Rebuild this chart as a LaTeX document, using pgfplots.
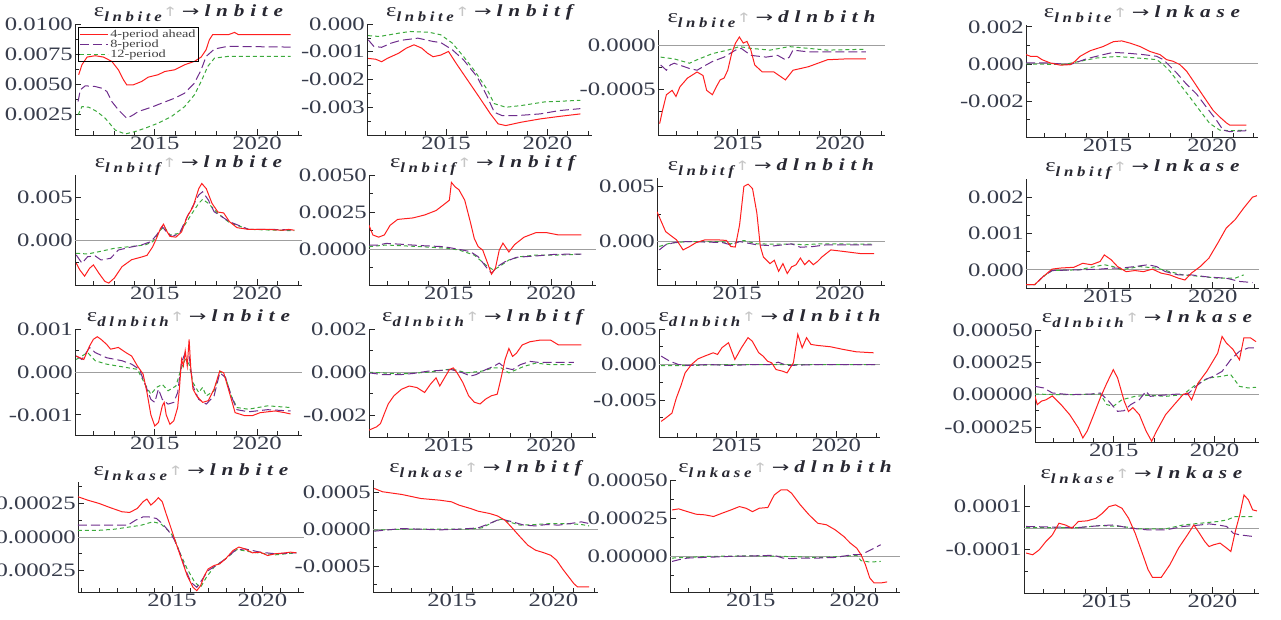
\documentclass[border=0pt]{standalone}
\usepackage{fontspec}
\setmainfont{Liberation Serif}[FakeStretch=1.3]
\newfontfamily\trackit{Liberation Serif}[FakeStretch=1.25, LetterSpace=34]
\newfontfamily\subtrack{Liberation Serif}[FakeStretch=1.2, LetterSpace=26]
\newfontfamily\arrowfont{DejaVu Sans}[FakeStretch=1.4]
\usepackage{pgfplots}
\pgfplotsset{compat=1.18}

\definecolor{cred}{RGB}{255,30,30}
\definecolor{cpur}{RGB}{110,45,140}
\definecolor{cgrn}{RGB}{60,170,60}
\definecolor{tickc}{RGB}{55,60,75}
\definecolor{titlec}{RGB}{40,40,50}

% title: shock -> response
\newcommand{\irf}[2]{{\color{titlec}\fontsize{19}{19}\selectfont ε}\raisebox{-5pt}{\color{titlec}\subtrack\bfseries\itshape\fontsize{14}{14}\selectfont #1}\hspace{1pt}{\color{gray!45}\arrowfont\fontsize{13}{13}\selectfont ↑}\hspace{4pt}{\color{titlec}\arrowfont\fontsize{15}{15}\selectfont →}\hspace{5pt}{\color{titlec}\trackit\bfseries\itshape\fontsize{17}{17}\selectfont #2}}
\newcommand{\ticklab}{\fontsize{19}{19}\selectfont}

\tikzset{
  redl/.style={color=cred, line width=1pt, solid},
  purl/.style={color=cpur, line width=1pt, dash pattern=on 9pt off 4pt},
  grnl/.style={color=cgrn, line width=1pt, dash pattern=on 4pt off 3pt},
  zl/.style={color=gray!75, line width=0.8pt},
}

\pgfplotsset{
  every axis title shift=0pt,
  irf/.style={
    scale only axis, anchor=south west,
    axis x line*=bottom, axis y line*=left,
    axis line style={-, black!85, line width=0.8pt},
    xmin=2011.1, xmax=2022.2,
    xtick={2015,2020}, xticklabels={2015,2020},
    minor xtick={2012,2013,2014,2016,2017,2018,2019,2021,2022},
    tick align=inside,
    major tick length=6pt, minor tick length=4pt,
    every tick/.style={black!85, line width=0.7pt},
    tick label style={font=\ticklab, color=tickc},
    yticklabel style={inner xsep=2pt},
    xticklabel style={inner ysep=2pt},
    scaled y ticks=false, scaled x ticks=false,
    title style={at={(0.5,1)}, anchor=base, yshift=7pt, inner sep=0pt},
  },
}

\begin{document}
\begin{tikzpicture}
\useasboundingbox (0pt,0pt) rectangle (1281pt,620pt);

% ---------------- row 1: shock lnbite ----------------
\begin{axis}[irf, at={(75pt,485pt)}, width=227pt, height=111pt,
  ymin=0.00077, ymax=0.0100,
  ytick={0.0025,0.005,0.0075,0.01}, yticklabels={0.0025,0.0050,0.0075,0.0100},
  minor ytick={0.00125,0.00375,0.00625,0.00875},
  title={\irf{lnbite}{lnbite}},
  legend style={at={(0.013,0.973)}, anchor=north west, draw=black, line width=0.6pt, fill=none,
    font=\fontsize{11}{9}\selectfont, inner sep=1pt, row sep=-3.5pt, text=black!75},
  legend cell align=left,
  legend image code/.code={\draw[#1] (0pt,0pt) -- (28pt,0pt);}]
\addlegendimage{redl}\addlegendentry{4-period ahead}
\addlegendimage{purl}\addlegendentry{8-period}
\addlegendimage{grnl}\addlegendentry{12-period}
\addplot[grnl, forget plot] coordinates {(2011.25,0.00244) (2011.44,0.00313) (2011.77,0.00308) (2012.17,0.00272) (2012.58,0.00216) (2013.06,0.00119) (2013.55,0.00085) (2014.03,0.00105) (2014.52,0.00133) (2015.16,0.00175) (2015.81,0.0023) (2016.46,0.00313) (2016.94,0.00411) (2017.27,0.00522) (2017.59,0.00647) (2017.92,0.00716) (2018.56,0.0073) (2021.64,0.0073)};
\addplot[purl, forget plot] coordinates {(2011.25,0.00355) (2011.36,0.00452) (2011.6,0.00486) (2012.09,0.0048) (2012.41,0.00466) (2012.66,0.00439) (2012.9,0.00355) (2013.22,0.00286) (2013.63,0.00216) (2013.95,0.00244) (2014.19,0.00272) (2014.84,0.00308) (2015.33,0.00341) (2015.97,0.00383) (2016.46,0.00425) (2016.94,0.00508) (2017.27,0.00619) (2017.51,0.0073) (2017.92,0.00792) (2018.56,0.00814) (2021.64,0.00808)};
\addplot[redl, forget plot] coordinates {(2011.28,0.00578) (2011.44,0.00661) (2011.69,0.00725) (2012.09,0.00736) (2012.49,0.00725) (2012.9,0.00689) (2013.22,0.00619) (2013.47,0.00536) (2013.63,0.00494) (2013.95,0.00494) (2014.36,0.00522) (2014.68,0.00558) (2015.16,0.00578) (2015.49,0.00605) (2015.97,0.00619) (2016.46,0.00661) (2016.94,0.00689) (2017.27,0.00725) (2017.51,0.00786) (2017.67,0.00869) (2017.83,0.00911) (2018.6,0.00911) (2018.9,0.0093) (2019.1,0.00911) (2021.64,0.00911)};
\end{axis}

\begin{axis}[irf, at={(367pt,485pt)}, width=225pt, height=111pt,
  ymin=-0.0040, ymax=0,
  ytick={-0.003,-0.002,-0.001,0}, yticklabels={-0.003,-0.002,-0.001,0.000},
  minor ytick={-0.0035,-0.0025,-0.0015,-0.0005},
  title={\irf{lnbite}{lnbitf}}]
\addplot[grnl] coordinates {(2011.16,-0.00042) (2011.72,-0.00045) (2012.67,-0.00033) (2013.23,-0.00027) (2014.18,-0.0003) (2014.74,-0.00039) (2015.31,-0.00069) (2015.87,-0.00118) (2016.44,-0.00172) (2017.0,-0.00233) (2017.38,-0.00287) (2017.95,-0.003) (2018.7,-0.00294) (2019.84,-0.00281) (2021.63,-0.00275)};
\addplot[purl] coordinates {(2011.16,-0.00057) (2011.44,-0.00081) (2011.82,-0.00084) (2012.29,-0.00069) (2012.76,-0.00059) (2013.61,-0.00051) (2014.36,-0.00063) (2014.74,-0.00067) (2015.31,-0.00093) (2015.87,-0.0013) (2016.53,-0.0019) (2017.0,-0.00257) (2017.38,-0.00318) (2017.76,-0.0033) (2018.52,-0.0033) (2019.65,-0.00324) (2020.59,-0.00312) (2021.63,-0.00305)};
\addplot[redl] coordinates {(2011.16,-0.00124) (2011.53,-0.00127) (2011.82,-0.00136) (2012.1,-0.00124) (2012.67,-0.00105) (2013.04,-0.00087) (2013.42,-0.00075) (2013.8,-0.00087) (2014.08,-0.00105) (2014.36,-0.00118) (2014.74,-0.00112) (2015.12,-0.00099) (2015.5,-0.00142) (2016.06,-0.00202) (2016.63,-0.00263) (2017.19,-0.00324) (2017.57,-0.0036) (2017.95,-0.00366) (2018.7,-0.00354) (2019.65,-0.00342) (2020.59,-0.00333) (2021.63,-0.00324)};
\end{axis}

\begin{axis}[irf, at={(658pt,485pt)}, width=227pt, height=105pt,
  ymin=-0.00102, ymax=0.00018,
  ytick={-0.0005,0}, yticklabels={-0.0005,0.0000},
  minor ytick={-0.00075,-0.00025},
  title={\irf{lnbite}{dlnbith}}]
\addplot[zl] coordinates {(2011.1,0) (2022.2,0)};
\addplot[grnl] coordinates {(2011.23,-0.00013) (2011.89,-0.00015) (2012.64,-0.0002) (2013.01,-0.00016) (2013.76,-0.00009) (2014.51,-0.00005) (2015.08,-0.00001) (2015.64,-0.00003) (2016.58,-0.00005) (2017.52,-0.00001) (2018.45,-0.00003) (2019.39,-0.00005) (2021.27,-0.00004)};
\addplot[purl] coordinates {(2011.23,-0.00022) (2011.51,-0.00028) (2011.7,-0.00022) (2011.89,-0.0002) (2012.64,-0.00026) (2013.01,-0.00028) (2013.3,-0.00024) (2013.76,-0.00018) (2014.33,-0.00013) (2014.89,-0.00005) (2015.17,-0.00003) (2015.64,-0.00011) (2016.39,-0.00013) (2016.95,-0.00011) (2017.33,-0.00016) (2017.52,-0.00013) (2017.7,-0.00005) (2018.45,-0.00007) (2019.39,-0.00007) (2021.27,-0.00007)};
\addplot[redl] coordinates {(2011.18,-0.00089) (2011.32,-0.00074) (2011.51,-0.00056) (2011.79,-0.00051) (2011.98,-0.00058) (2012.17,-0.00047) (2012.54,-0.00037) (2013.01,-0.0003) (2013.3,-0.00034) (2013.48,-0.00051) (2013.76,-0.00056) (2013.95,-0.00047) (2014.14,-0.00039) (2014.33,-0.00037) (2014.51,-0.00028) (2014.7,-0.00009) (2014.89,0.00003) (2015.08,0.0001) (2015.27,0.00003) (2015.45,0.00005) (2015.64,-0.00005) (2015.83,-0.00022) (2016.2,-0.0003) (2016.77,-0.0003) (2017.33,-0.00039) (2017.7,-0.00028) (2018.45,-0.00024) (2019.39,-0.00016) (2020.33,-0.00015) (2021.27,-0.00015)};
\end{axis}

% ---------------- column 4 ----------------
\begin{axis}[irf, at={(1026pt,483pt)}, width=232pt, height=112pt,
  ymin=-0.00395, ymax=0.0021,
  ytick={-0.002,0,0.002}, yticklabels={-0.002,0.000,0.002},
  minor ytick={-0.003,-0.001,0.001},
  title={\irf{lnbite}{lnkase}}]
\addplot[zl] coordinates {(2011.1,0) (2022.2,0)};
\addplot[grnl] coordinates {(2011.1,0) (2012.9,-0.00004) (2013.69,0.00014) (2014.49,0.00032) (2015.44,0.0004) (2016.39,0.00032) (2017.35,0.00023) (2017.67,-0.00004) (2017.98,-0.00039) (2018.46,-0.0011) (2018.94,-0.0018) (2019.41,-0.00251) (2019.89,-0.00322) (2020.37,-0.00358) (2020.85,-0.00361) (2021.64,-0.00358)};
\addplot[purl] coordinates {(2011.1,0.00005) (2012.1,0.00005) (2013.21,-0.00004) (2014.01,0.00028) (2014.8,0.0005) (2015.28,0.00062) (2015.92,0.00058) (2016.71,0.0005) (2017.35,0.00041) (2017.67,0.00023) (2017.98,-0.00012) (2018.3,-0.00048) (2018.78,-0.0011) (2019.26,-0.00163) (2019.73,-0.00234) (2020.21,-0.00304) (2020.53,-0.00358) (2020.85,-0.00366) (2021.64,-0.00361)};
\addplot[redl] coordinates {(2011.1,0.0005) (2011.31,0.00041) (2011.62,0.00041) (2011.86,0.00023) (2012.26,0.00005) (2012.74,-0.00007) (2013.21,-0.00004) (2013.45,0.00014) (2013.69,0.00041) (2014.17,0.00071) (2014.8,0.00094) (2015.28,0.0012) (2015.68,0.00124) (2016.08,0.00112) (2016.55,0.00094) (2017.03,0.00067) (2017.51,0.0005) (2017.82,0.00023) (2018.14,0.00014) (2018.46,-0.00004) (2018.78,-0.00039) (2019.1,-0.00092) (2019.41,-0.00145) (2019.73,-0.00198) (2020.05,-0.00251) (2020.37,-0.00287) (2020.69,-0.00319) (2020.85,-0.00331) (2021.64,-0.00331)};
\end{axis}

\begin{axis}[irf, at={(1026pt,332pt)}, width=233pt, height=109pt,
  ymin=-0.0005, ymax=0.0025,
  ytick={0,0.001,0.002}, yticklabels={0.000,0.001,0.002},
  minor ytick={0.0005,0.0015},
  title={\irf{lnbitf}{lnkase}}]
\addplot[zl] coordinates {(2011.1,0) (2022.2,0)};
\addplot[grnl] coordinates {(2011.1,-0.00041) (2011.51,-0.00041) (2011.93,-0.00018) (2012.34,-0.00002) (2013.59,0) (2014.83,0.00014) (2015.25,0.00009) (2015.66,0) (2016.49,0.00009) (2017.32,0.00005) (2017.95,-0.00005) (2018.57,-0.00014) (2019.4,-0.00018) (2020.23,-0.00023) (2021.06,-0.00023) (2021.47,-0.00014)};
\addplot[purl] coordinates {(2011.1,-0.00041) (2011.51,-0.00041) (2011.93,-0.00018) (2012.34,-0.00002) (2013.59,0) (2014.63,0.00002) (2015.25,0.00005) (2015.66,0.00005) (2016.29,0.00009) (2016.91,0.00014) (2017.32,0.00009) (2017.74,-0.00005) (2018.36,-0.00014) (2018.98,-0.00014) (2019.81,-0.0002) (2020.64,-0.00023) (2021.27,-0.00032) (2021.89,-0.00035)};
\addplot[redl] coordinates {(2011.1,-0.00041) (2011.51,-0.00041) (2011.93,-0.00018) (2012.34,0.00002) (2012.76,0.00005) (2013.38,0.00007) (2013.8,0.00018) (2014.21,0.00014) (2014.63,0.00023) (2014.83,0.00041) (2015.15,0.00028) (2015.46,0.00009) (2015.87,-0.00005) (2016.29,-0.00002) (2016.7,-0.00005) (2017.12,0.00002) (2017.53,-0.00009) (2017.95,-0.00014) (2018.36,-0.00023) (2018.67,-0.00028) (2018.98,-0.00009) (2019.4,0.00009) (2019.81,0.00032) (2020.23,0.00073) (2020.64,0.00115) (2021.06,0.00138) (2021.47,0.0017) (2021.89,0.002) (2022.1,0.00204)};
\end{axis}

\begin{axis}[irf, at={(1035pt,178pt)}, width=224pt, height=112pt,
  ymin=-0.000366, ymax=0.0005,
  ytick={-0.00025,0,0.00025,0.0005}, yticklabels={-0.00025,0.00000,0.00025,0.00050},
  minor ytick={-0.000125,0.000125,0.000375},
  title={\irf{dlnbith}{lnkase}}]
\addplot[zl] coordinates {(2011.1,0) (2022.2,0)};
\addplot[grnl] coordinates {(2011.1,0.000005) (2012.18,0) (2013.26,0) (2014.33,0.000005) (2014.66,-0.000077) (2014.98,-0.00009) (2015.41,-0.000039) (2016.06,-0.000013) (2016.7,-0.000005) (2017.57,-0.000013) (2018.43,0) (2019.07,0.000077) (2019.72,0.000129) (2020.37,0.000142) (2020.8,0.000155) (2021.23,0.000064) (2021.66,0.000052) (2022.05,0.000057)};
\addplot[purl] coordinates {(2011.1,0.000064) (2011.53,0.000052) (2011.96,0.000013) (2012.82,0) (2013.9,0.000005) (2014.33,0.000013) (2014.76,-0.000052) (2015.19,-0.000129) (2015.52,-0.000124) (2015.84,-0.000077) (2016.27,-0.000039) (2016.6,0.000026) (2016.81,-0.000013) (2017.35,-0.000005) (2018.21,0.000005) (2018.64,0) (2019.07,0.000064) (2019.51,0.000116) (2019.94,0.000142) (2020.37,0.00018) (2020.8,0.000271) (2021.23,0.000335) (2021.66,0.000361) (2022.05,0.000361)};
\addplot[redl] coordinates {(2011.1,-0.000013) (2011.21,-0.000077) (2011.42,-0.00005) (2011.64,-0.00004) (2011.96,-0.00001) (2012.39,-0.000077) (2012.82,-0.000155) (2013.26,-0.00026) (2013.47,-0.000335) (2013.69,-0.00028) (2014.01,-0.000155) (2014.33,-0.000026) (2014.66,0.00009) (2014.98,0.000193) (2015.19,0.00013) (2015.52,-0.00005) (2015.73,-0.00013) (2015.95,-0.0001) (2016.27,-0.000155) (2016.6,-0.00028) (2016.88,-0.00036) (2017.13,-0.00028) (2017.57,-0.000155) (2018.0,-0.000077) (2018.43,0) (2018.64,0.000013) (2018.86,-0.00004) (2019.18,0.00009) (2019.61,0.00018) (2020.15,0.00032) (2020.37,0.00045) (2020.58,0.0004) (2020.91,0.00035) (2021.23,0.00027) (2021.45,0.00044) (2021.77,0.00044) (2022.05,0.00041)};
\end{axis}

\begin{axis}[irf, at={(1024pt,27pt)}, width=235pt, height=108pt,
  ymin=-0.0003, ymax=0.0002,
  ytick={-0.0001,0.0001}, yticklabels={-0.0001,0.0001},
  minor ytick={-0.0002,0},
  title={\irf{lnkase}{lnkase}}]
\addplot[zl] coordinates {(2011.1,0) (2022.2,0)};
\addplot[grnl] coordinates {(2011.2,0.000003) (2013.67,0.000003) (2014.7,0.000012) (2015.73,0.000008) (2016.55,-0.000003) (2017.79,-0.000003) (2018.61,0.000015) (2019.43,0.000023) (2020.26,0.000031) (2020.67,0.000038) (2021.08,0.000054) (2021.49,0.000054) (2021.9,0.000054)};
\addplot[purl] coordinates {(2011.2,0.000008) (2013.67,0.000003) (2014.7,0.000012) (2015.32,0.000015) (2016.14,0) (2016.96,-0.000008) (2017.79,-0.000008) (2018.61,0.000008) (2019.43,0.000015) (2019.84,0.00002) (2020.26,0.000015) (2020.67,0.000008) (2020.98,-0.000023) (2021.29,-0.000031) (2021.9,-0.000038)};
\addplot[redl] coordinates {(2011.2,-0.000115) (2011.51,-0.000123) (2011.82,-0.0001) (2012.13,-0.000062) (2012.44,-0.000031) (2012.75,0.000023) (2013.05,0.000015) (2013.36,0) (2013.67,0.000031) (2014.08,0.000034) (2014.5,0.000046) (2014.8,0.000069) (2015.11,0.0001) (2015.42,0.000108) (2015.73,0.000092) (2016.04,0.000046) (2016.35,-0.000023) (2016.66,-0.000108) (2016.96,-0.000192) (2017.17,-0.000228) (2017.58,-0.000228) (2017.99,-0.000169) (2018.4,-0.000092) (2018.82,-0.000031) (2019.12,0.000015) (2019.33,-0.000015) (2019.64,-0.000062) (2019.84,-0.000085) (2020.05,-0.000077) (2020.36,-0.000069) (2020.67,-0.000092) (2020.87,-0.000108) (2021.08,-0.000015) (2021.29,0.000062) (2021.49,0.000154) (2021.7,0.000131) (2021.9,0.000085) (2022.1,0.00008)};
\end{axis}

% ---------------- row 2: shock lnbitf ----------------
\begin{axis}[irf, at={(75pt,335pt)}, width=227pt, height=110pt,
  ymin=-0.00512, ymax=0.00758,
  ytick={0,0.005}, yticklabels={0.000,0.005},
  minor ytick={-0.0025,0.0025},
  title={\irf{lnbitf}{lnbite}}]
\addplot[zl] coordinates {(2011.1,0) (2022.2,0)};
\addplot[grnl] coordinates {(2011.16,-0.00146) (2011.72,-0.00154) (2012.28,-0.00127) (2013.03,-0.00088) (2013.78,-0.00069) (2014.53,-0.0005) (2014.9,-0.00012) (2015.28,0.00123) (2015.46,0.00162) (2015.74,0.00065) (2016.21,0.00085) (2016.77,0.00296) (2017.15,0.00431) (2017.34,0.00477) (2017.62,0.00431) (2018.09,0.00315) (2018.65,0.00208) (2019.58,0.00131) (2020.52,0.00123) (2021.83,0.00115)};
\addplot[purl] coordinates {(2011.16,-0.00165) (2011.44,-0.0026) (2011.72,-0.00185) (2012.09,-0.00177) (2012.37,-0.00223) (2012.84,-0.00204) (2013.22,-0.00108) (2013.78,-0.00077) (2014.34,-0.0005) (2014.81,-0.00012) (2015.09,0.00065) (2015.37,0.00162) (2015.56,0.00104) (2015.84,0.00046) (2016.21,0.00085) (2016.59,0.00277) (2017.15,0.00527) (2017.34,0.00565) (2017.62,0.00469) (2017.9,0.00335) (2018.65,0.00219) (2019.58,0.00131) (2020.52,0.00131) (2021.83,0.00123)};
\addplot[redl] coordinates {(2011.16,-0.0026) (2011.34,-0.0034) (2011.57,-0.0041) (2011.81,-0.0032) (2012.0,-0.0028) (2012.28,-0.0038) (2012.56,-0.0047) (2012.75,-0.0049) (2013.03,-0.0043) (2013.4,-0.003) (2013.87,-0.0022) (2014.34,-0.0019) (2014.62,-0.0017) (2014.9,-0.0007) (2015.09,0.0003) (2015.28,0.0014) (2015.43,0.0019) (2015.56,0.0012) (2015.74,0.0005) (2016.03,0.0004) (2016.31,0.001) (2016.59,0.0028) (2016.87,0.0039) (2017.15,0.006) (2017.3,0.0066) (2017.52,0.006) (2017.8,0.0043) (2018.09,0.0033) (2018.37,0.0032) (2018.65,0.0022) (2019.02,0.0015) (2019.58,0.0013) (2020.52,0.0013) (2021.27,0.0012) (2021.55,0.0013) (2021.83,0.0012)};
\end{axis}

\begin{axis}[irf, at={(369pt,335pt)}, width=227pt, height=110pt,
  ymin=-0.00243, ymax=0.0050,
  ytick={0,0.0025,0.005}, yticklabels={0.0000,0.0025,0.0050},
  minor ytick={-0.00125,0.00125,0.00375},
  title={\irf{lnbitf}{lnbitf}}]
\addplot[zl] coordinates {(2011.1,0) (2022.2,0)};
\addplot[grnl] coordinates {(2011.1,0.00016) (2011.94,0.00027) (2013.63,0.00016) (2014.94,0.00005) (2015.5,-0.00007) (2016.25,-0.00041) (2016.81,-0.00108) (2017.18,-0.00142) (2017.47,-0.00119) (2017.94,-0.00074) (2018.5,-0.00052) (2019.25,-0.00041) (2020.18,-0.00041) (2021.49,-0.00036)};
\addplot[purl] coordinates {(2011.1,0.00027) (2011.57,0.00027) (2011.94,0.00038) (2012.69,0.00032) (2013.63,0.00023) (2014.75,0.00016) (2015.5,-0.00002) (2016.06,-0.00018) (2016.44,-0.00052) (2016.81,-0.00119) (2017.09,-0.00164) (2017.37,-0.00119) (2017.75,-0.00086) (2018.31,-0.00056) (2019.25,-0.00047) (2020.18,-0.00036) (2021.49,-0.00034)};
\addplot[redl] coordinates {(2011.1,0.0016) (2011.29,0.00095) (2011.57,0.0008) (2011.85,0.00095) (2012.13,0.0016) (2012.5,0.002) (2013.25,0.0021) (2013.82,0.0023) (2014.38,0.0026) (2014.85,0.0031) (2015.03,0.0033) (2015.13,0.0045) (2015.31,0.0042) (2015.5,0.004) (2015.78,0.0033) (2016.06,0.0018) (2016.25,0.0007) (2016.44,0.00016) (2016.66,-0.00007) (2016.91,-0.001) (2017.09,-0.0017) (2017.28,-0.0013) (2017.47,-0.00007) (2017.65,0.0004) (2017.94,-0.0002) (2018.22,0.0003) (2018.68,0.0008) (2019.25,0.0011) (2019.81,0.0011) (2020.37,0.00095) (2021.12,0.00095) (2021.49,0.00095)};
\end{axis}

\begin{axis}[irf, at={(657pt,335pt)}, width=228pt, height=107pt,
  ymin=-0.00394, ymax=0.00576,
  ytick={0,0.005}, yticklabels={0.000,0.005},
  minor ytick={-0.0025,0.0025},
  title={\irf{lnbitf}{dlnbith}}]
\addplot[zl] coordinates {(2011.1,0) (2022.2,0)};
\addplot[grnl] coordinates {(2011.21,-0.00045) (2011.73,-0.00015) (2012.58,0) (2014.27,0) (2014.69,-0.00021) (2015.33,0.00009) (2015.96,-0.00021) (2016.81,-0.00024) (2017.87,-0.00024) (2018.29,-0.0003) (2018.92,-0.00021) (2021.67,-0.00024)};
\addplot[purl] coordinates {(2011.21,-0.00076) (2011.52,-0.0003) (2011.95,-0.00009) (2012.58,0) (2014.27,-0.00009) (2014.69,-0.0003) (2015.12,0) (2015.96,-0.0003) (2016.81,-0.00039) (2017.65,-0.00021) (2018.08,-0.00052) (2018.71,-0.00045) (2019.35,-0.0003) (2021.67,-0.0003)};
\addplot[redl] coordinates {(2011.1,0.0027) (2011.31,0.0018) (2011.52,0.0009) (2011.73,0.0006) (2012.05,0.00015) (2012.37,-0.00076) (2012.69,-0.00045) (2013.0,-0.0001) (2013.43,0.00015) (2014.06,0.00015) (2014.48,0.0001) (2014.69,-0.00045) (2014.91,-0.0005) (2015.12,0.0015) (2015.33,0.005) (2015.54,0.0052) (2015.75,0.0048) (2015.96,0.0026) (2016.13,-0.00045) (2016.28,-0.0014) (2016.6,-0.002) (2016.81,-0.0017) (2017.02,-0.0027) (2017.23,-0.002) (2017.44,-0.0029) (2017.65,-0.0023) (2017.87,-0.0021) (2018.08,-0.0015) (2018.29,-0.0021) (2018.5,-0.0017) (2018.71,-0.0021) (2018.92,-0.0018) (2019.13,-0.0014) (2019.56,-0.00076) (2020.19,-0.0009) (2021.04,-0.0011) (2021.67,-0.0011)};
\end{axis}

% ---------------- row 3: shock dlnbith ----------------
\begin{axis}[irf, at={(75pt,185pt)}, width=227pt, height=106pt,
  ymin=-0.00147, ymax=0.001,
  ytick={-0.001,0,0.001}, yticklabels={-0.001,0.000,0.001},
  minor ytick={-0.0005,0.0005},
  title={\irf{dlnbith}{lnbite}}]
\addplot[zl] coordinates {(2011.1,0) (2022.2,0)};
\addplot[grnl] coordinates {(2011.16,0.00029) (2011.44,0.00037) (2011.72,0.00045) (2012.09,0.00026) (2012.65,0.00018) (2013.4,0.00012) (2014.15,0.00006) (2014.53,-0.00029) (2014.81,-0.00052) (2015.09,-0.00036) (2015.37,-0.00029) (2015.65,-0.00044) (2016.03,-0.00033) (2016.31,0.0001) (2016.49,0.00029) (2016.68,0.00018) (2016.87,-0.00025) (2017.15,-0.00048) (2017.34,-0.00036) (2017.52,-0.00056) (2017.9,-0.00044) (2018.18,0.00002) (2018.46,-0.00013) (2018.74,-0.00056) (2019.02,-0.00083) (2019.58,-0.00087) (2020.52,-0.00079) (2021.64,-0.00083)};
\addplot[purl] coordinates {(2011.16,0.00037) (2011.44,0.00029) (2011.81,0.00057) (2012.09,0.00045) (2012.65,0.00033) (2013.4,0.00026) (2013.87,0.00018) (2014.25,0.00006) (2014.53,-0.00029) (2014.81,-0.00064) (2015.0,-0.00071) (2015.18,-0.0004) (2015.37,-0.00064) (2015.65,-0.00075) (2015.93,-0.00071) (2016.12,-0.00048) (2016.31,0.00022) (2016.49,0.00045) (2016.68,0.00037) (2016.87,-0.00033) (2017.15,-0.00064) (2017.52,-0.00075) (2017.9,-0.00056) (2018.18,-0.00002) (2018.46,-0.00013) (2018.74,-0.00056) (2019.02,-0.00088) (2019.58,-0.00093) (2020.52,-0.00088) (2021.64,-0.00091)};
\addplot[redl] coordinates {(2011.16,0.00037) (2011.34,0.00033) (2011.53,0.00029) (2011.81,0.0006) (2012.0,0.00076) (2012.19,0.00082) (2012.37,0.00076) (2012.65,0.00064) (2012.84,0.00053) (2013.22,0.00057) (2013.59,0.00045) (2013.87,0.00037) (2014.15,0.00014) (2014.43,-0.00005) (2014.62,-0.00048) (2014.81,-0.001) (2015.0,-0.00126) (2015.18,-0.00118) (2015.37,-0.00079) (2015.46,-0.00071) (2015.56,-0.001) (2015.74,-0.00122) (2015.93,-0.00114) (2016.12,-0.00083) (2016.21,-0.00036) (2016.31,0.00029) (2016.4,0.00014) (2016.49,0.00049) (2016.59,0.00014) (2016.68,0.00076) (2016.77,0.00002) (2016.87,-0.0004) (2017.05,-0.00056) (2017.34,-0.00071) (2017.62,-0.00067) (2017.9,-0.0004) (2018.18,0.00002) (2018.37,-0.00002) (2018.65,-0.00048) (2018.93,-0.00095) (2019.4,-0.00102) (2019.77,-0.00102) (2020.15,-0.00095) (2020.52,-0.00093) (2020.89,-0.00091) (2021.36,-0.00095) (2021.64,-0.00098)};
\end{axis}

\begin{axis}[irf, at={(369pt,183pt)}, width=227pt, height=108pt,
  ymin=-0.003, ymax=0.002,
  ytick={-0.002,0,0.002}, yticklabels={-0.002,0.000,0.002},
  minor ytick={-0.001,0.001},
  title={\irf{dlnbith}{lnbitf}}]
\addplot[zl] coordinates {(2011.1,0) (2022.2,0)};
\addplot[grnl] coordinates {(2011.1,0) (2012.69,-0.00008) (2014.0,0) (2015.13,0.00015) (2015.88,-0.00003) (2016.62,0.00005) (2017.19,0.0002) (2017.56,0.0002) (2017.94,-0.00003) (2018.31,0.00012) (2018.68,0.00027) (2019.25,0.00042) (2019.99,0.00035) (2021.12,0.00035)};
\addplot[purl] coordinates {(2011.1,-0.00003) (2011.76,-0.00011) (2012.69,-0.00011) (2013.25,-0.00006) (2014.0,0.00005) (2014.56,0.00008) (2015.13,0.00012) (2015.69,-0.00003) (2016.06,-0.00018) (2016.34,-0.00011) (2016.81,0.00012) (2017.19,0.00027) (2017.47,0.00042) (2017.75,0.0002) (2018.12,0.00012) (2018.5,0.00035) (2018.97,0.0005) (2019.43,0.00045) (2019.99,0.00045) (2021.12,0.00045)};
\addplot[redl] coordinates {(2011.1,-0.00268) (2011.47,-0.00253) (2011.66,-0.00238) (2011.85,-0.00192) (2012.04,-0.00147) (2012.32,-0.00109) (2012.69,-0.00079) (2013.07,-0.00064) (2013.44,-0.00071) (2013.82,-0.00094) (2014.1,-0.00056) (2014.38,-0.00026) (2014.56,-0.00064) (2014.75,-0.00033) (2015.03,0.00012) (2015.22,0.0002) (2015.41,-0.00003) (2015.69,-0.00048) (2015.97,-0.00109) (2016.25,-0.00139) (2016.53,-0.00147) (2016.81,-0.00124) (2017.09,-0.00109) (2017.37,-0.00102) (2017.56,-0.00026) (2017.75,0.00058) (2017.94,0.0011) (2018.12,0.00073) (2018.31,0.00088) (2018.59,0.00126) (2018.97,0.00141) (2019.43,0.00148) (2019.99,0.00148) (2020.37,0.00126) (2020.93,0.00126) (2021.49,0.00126)};
\end{axis}

\begin{axis}[irf, at={(659pt,183pt)}, width=221pt, height=108pt,
  ymin=-0.0102, ymax=0.005,
  ytick={-0.005,0,0.005}, yticklabels={-0.005,0.000,0.005},
  minor ytick={-0.0075,-0.0025,0.0025},
  title={\irf{dlnbith}{dlnbith}}]
\addplot[zl] coordinates {(2011.1,0) (2022.2,0)};
\addplot[grnl] coordinates {(2011.21,-0.00014) (2012.52,-0.00014) (2014.69,0) (2016.88,0) (2022.1,0)};
\addplot[purl] coordinates {(2011.21,0.00118) (2011.64,0.00047) (2012.08,0) (2012.52,-0.00014) (2013.61,0) (2014.69,-0.00014) (2015.78,0) (2016.66,0) (2017.09,0.00033) (2017.53,-0.00014) (2019.05,0) (2022.1,0)};
\addplot[redl] coordinates {(2011.21,-0.008) (2011.43,-0.00755) (2011.75,-0.00684) (2011.97,-0.00472) (2012.19,-0.00307) (2012.41,-0.00118) (2012.73,0) (2013.06,0.0008) (2013.39,0.00118) (2013.82,0.00165) (2014.04,0.00142) (2014.26,0.00236) (2014.59,0.00307) (2014.91,0.00071) (2015.24,0.00236) (2015.57,0.00378) (2015.78,0.0033) (2016.11,0.00165) (2016.33,0.00118) (2016.55,0.00047) (2016.76,0.00024) (2016.98,-0.00071) (2017.31,-0.00094) (2017.53,-0.00118) (2017.85,0.00024) (2018.07,0.00425) (2018.29,0.00236) (2018.51,0.00378) (2018.73,0.00283) (2019.05,0.00269) (2019.71,0.0025) (2020.36,0.00212) (2021.01,0.00179) (2021.88,0.00165)};
\end{axis}

% ---------------- row 4: shock lnkase ----------------
\begin{axis}[irf, at={(78pt,28pt)}, width=226pt, height=110pt,
  xmin=2009.8, xmax=2022.3,
  minor xtick={2010,2011,2012,2013,2014,2016,2017,2018,2019,2021,2022},
  ymin=-0.00041, ymax=0.00041,
  ytick={-0.00025,0,0.00025}, yticklabels={-0.00025,0.00000,0.00025},
  minor ytick={-0.000125,0.000125,0.000375},
  title={\irf{lnkase}{lnbite}}]
\addplot[zl] coordinates {(2009.8,0) (2022.3,0)};
\addplot[grnl] coordinates {(2009.8,0.00005) (2010.97,0.00005) (2011.81,0.000058) (2012.66,0.000075) (2013.3,0.000088) (2013.93,0.000113) (2014.36,0.0001) (2014.78,0.00005) (2015.1,0) (2015.42,-0.000113) (2015.84,-0.000238) (2016.26,-0.000338) (2016.58,-0.000375) (2016.9,-0.0003) (2017.32,-0.000225) (2017.96,-0.000163) (2018.59,-0.000093) (2019.44,-0.000113) (2020.71,-0.000133) (2021.88,-0.000118)};
\addplot[purl] coordinates {(2009.8,0.000088) (2011.6,0.000088) (2012.55,0.000088) (2012.98,0.000125) (2013.4,0.00015) (2013.72,0.00015) (2014.14,0.000138) (2014.46,0.0001) (2014.78,0.00005) (2015.1,-0.000013) (2015.42,-0.000113) (2015.73,-0.000238) (2016.05,-0.000338) (2016.37,-0.000375) (2016.69,-0.000313) (2017.0,-0.00025) (2017.43,-0.000213) (2017.96,-0.000163) (2018.49,-0.0001) (2019.02,-0.000088) (2019.87,-0.000113) (2020.71,-0.000125) (2021.88,-0.000118)};
\addplot[redl] coordinates {(2009.8,0.0003) (2010.33,0.000275) (2010.97,0.00025) (2011.6,0.000218) (2012.24,0.000188) (2012.66,0.000183) (2013.08,0.000213) (2013.4,0.000263) (2013.61,0.000283) (2013.83,0.000238) (2014.04,0.000263) (2014.25,0.000293) (2014.46,0.000263) (2014.67,0.000175) (2014.89,0.000088) (2015.2,-0.000038) (2015.52,-0.000163) (2015.84,-0.000288) (2016.16,-0.000375) (2016.37,-0.0004) (2016.58,-0.000363) (2016.79,-0.000288) (2017.0,-0.000238) (2017.32,-0.000213) (2017.64,-0.0002) (2017.96,-0.000163) (2018.38,-0.0001) (2018.7,-0.000075) (2019.02,-0.000088) (2019.44,-0.000118) (2019.87,-0.000113) (2020.29,-0.000138) (2020.71,-0.000125) (2021.14,-0.00012) (2021.56,-0.000113) (2021.88,-0.000118)};
\end{axis}

\begin{axis}[irf, at={(373pt,28pt)}, width=225pt, height=112pt,
  ymin=-0.000855, ymax=0.00067,
  ytick={-0.0005,0,0.0005}, yticklabels={-0.0005,0.0000,0.0005},
  minor ytick={-0.00075,-0.00025,0.00025},
  title={\irf{lnkase}{lnbitf}}]
\addplot[zl] coordinates {(2011.1,0) (2022.2,0)};
\addplot[grnl] coordinates {(2011.16,-0.000014) (2012.52,0) (2014.4,0) (2015.72,0) (2016.48,0.000018) (2017.04,0.0001) (2017.42,0.000136) (2017.8,0.0001) (2018.36,0.000055) (2019.12,0.000064) (2019.87,0.000077) (2020.63,0.000077) (2021.38,0.000064) (2021.76,0.000045)};
\addplot[purl] coordinates {(2011.16,-0.000027) (2012.52,0.000009) (2013.46,0) (2014.4,-0.000009) (2015.35,0) (2016.29,0.000018) (2016.85,0.000077) (2017.23,0.000123) (2017.52,0.000132) (2017.99,0.0001) (2018.55,0.000055) (2019.12,0.000045) (2019.68,0.000064) (2020.25,0.000055) (2020.82,0.000077) (2021.38,0.0001) (2021.76,0.000077)};
\addplot[redl] coordinates {(2011.16,0.000555) (2011.57,0.00051) (2012.52,0.000473) (2013.46,0.000418) (2014.4,0.000395) (2014.97,0.000373) (2015.35,0.000327) (2015.91,0.000282) (2016.29,0.000245) (2016.85,0.000214) (2017.23,0.000182) (2017.61,0.000123) (2017.99,0.00001) (2018.36,-0.000105) (2018.74,-0.000218) (2019.12,-0.000286) (2019.5,-0.000318) (2019.87,-0.000355) (2020.16,-0.000423) (2020.44,-0.000536) (2020.63,-0.000605) (2020.82,-0.000673) (2021.01,-0.000741) (2021.19,-0.000786) (2021.76,-0.000786)};
\end{axis}

\begin{axis}[irf, at={(670pt,28pt)}, width=230pt, height=112pt,
  ymin=-0.000233, ymax=0.0005,
  ytick={0,0.00025,0.0005}, yticklabels={0.00000,0.00025,0.00050},
  minor ytick={-0.000125,0.000125,0.000375},
  title={\irf{lnkase}{dlnbith}}]
\addplot[zl] coordinates {(2011.1,0) (2022.2,0)};
\addplot[grnl] coordinates {(2011.2,-0.000011) (2012.99,0) (2015.08,0.000004) (2016.55,0) (2018.23,-0.000007) (2019.49,0) (2020.11,0.000007) (2020.32,-0.000028) (2020.74,-0.000037) (2021.27,-0.000033)};
\addplot[purl] coordinates {(2011.2,-0.000033) (2011.52,-0.000022) (2011.94,-0.000011) (2014.04,0) (2016.13,0.000007) (2016.55,-0.000011) (2016.97,-0.000015) (2017.39,-0.000011) (2018.23,-0.000011) (2019.07,-0.000007) (2019.9,0.000011) (2020.32,0.000011) (2020.64,0.000033) (2020.95,0.000054) (2021.27,0.000076)};
\addplot[redl] coordinates {(2011.2,0.000304) (2011.52,0.000311) (2011.94,0.000293) (2012.36,0.000276) (2012.78,0.000272) (2013.2,0.000261) (2013.62,0.000283) (2014.04,0.000304) (2014.45,0.000326) (2014.77,0.000315) (2015.08,0.000293) (2015.4,0.000315) (2015.82,0.00032) (2016.13,0.000402) (2016.45,0.000435) (2016.76,0.000435) (2016.97,0.000413) (2017.39,0.000337) (2017.81,0.000272) (2018.23,0.000217) (2018.65,0.000207) (2019.07,0.000174) (2019.49,0.00013) (2019.8,0.000087) (2020.11,0.000054) (2020.32,0.000011) (2020.53,-0.000054) (2020.74,-0.000141) (2020.95,-0.000174) (2021.27,-0.000174) (2021.58,-0.000167)};
\end{axis}

\end{tikzpicture}
\end{document}
